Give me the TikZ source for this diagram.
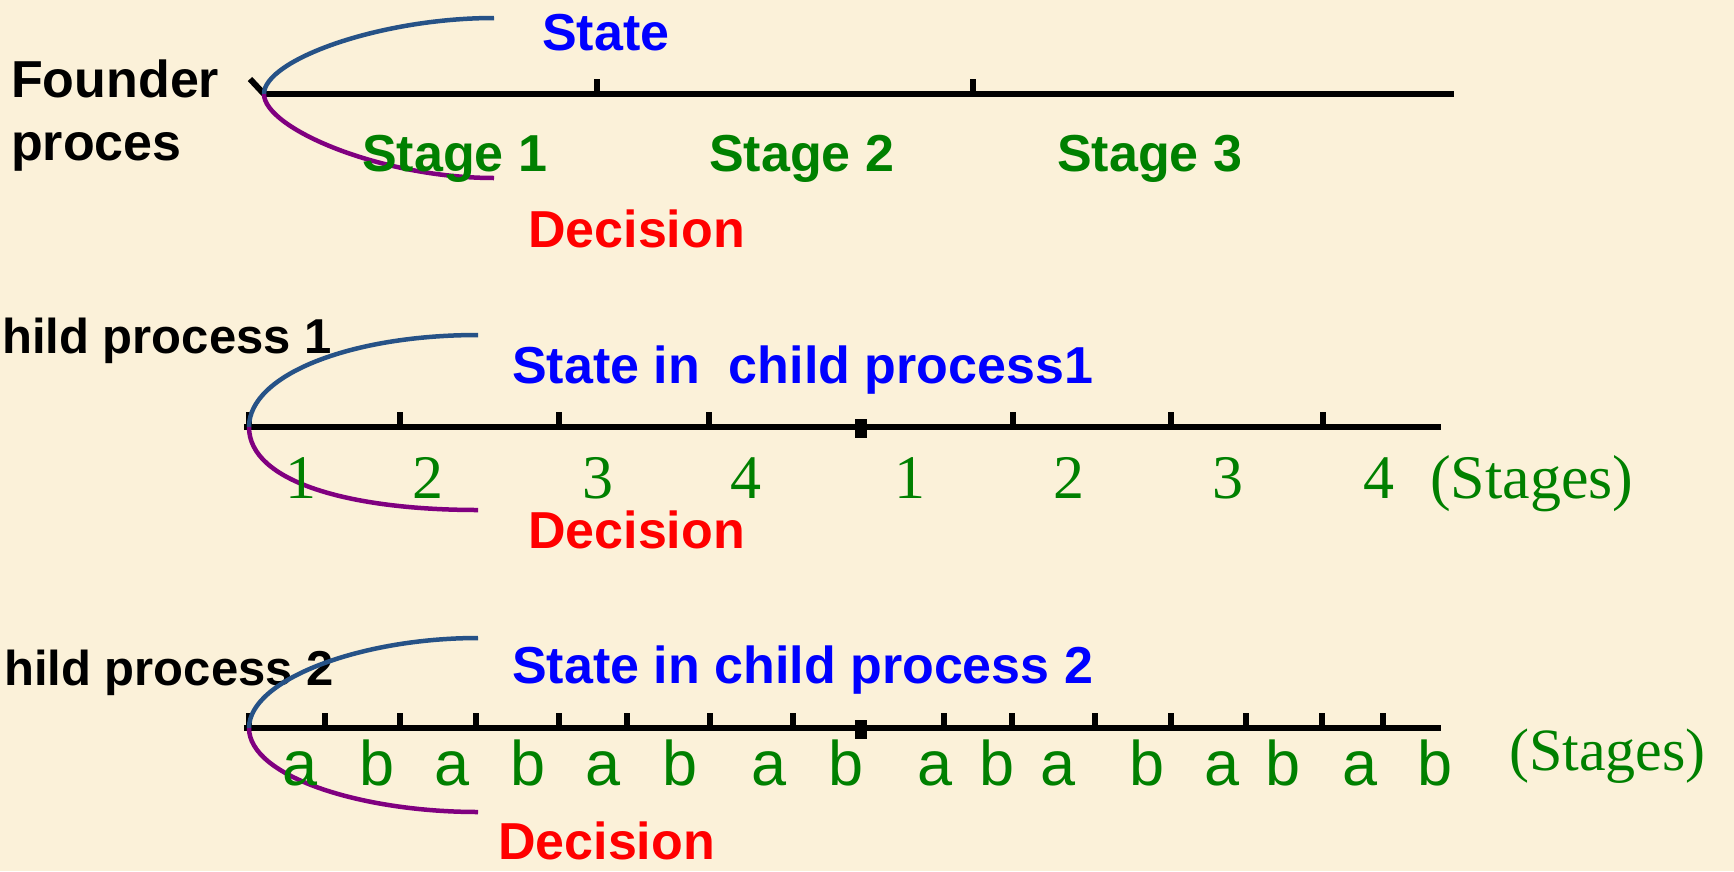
\documentclass[tikz,border=0pt]{standalone}
\usepackage{fontspec}
\setmainfont{Liberation Sans}
\newfontfamily\timesf{Liberation Serif}
\definecolor{bg}{RGB}{251,241,217}
\definecolor{stblue}{RGB}{38,82,135}
\definecolor{dpurple}{RGB}{128,0,128}
\definecolor{dgreen}{RGB}{0,128,0}
\definecolor{pblue}{RGB}{0,0,255}
\definecolor{pred}{RGB}{255,0,0}
\begin{document}
\begin{tikzpicture}[x=1pt,y=-1pt,
  lbl/.style={inner sep=0pt,font=\fontsize{52}{60}\selectfont\bfseries},
  blk/.style={lbl,text=black},
  stt/.style={lbl,text=pblue},
  dec/.style={lbl,text=pred},
  stg/.style={lbl,text=dgreen},
  num/.style={inner sep=0pt,text=dgreen,font=\timesf\fontsize{62}{70}\selectfont},
  ab/.style={inner sep=0pt,text=dgreen,font=\fontsize{63}{70}\selectfont},
  axisline/.style={line width=6pt},
  tk/.style={line width=6pt},
  stcurve/.style={line width=4.5pt,stblue},
  dccurve/.style={line width=4.5pt,dpurple}]
\fill[bg] (0,0) rectangle (1734,871);
\useasboundingbox (0,0) rectangle (1734,871);
\clip (0,0) rectangle (1734,871);

% ---------- Founder process ----------
\node[blk,anchor=base west] (f1) at (11,97) {Founder};
\node[blk,anchor=base west] (f2) at (11,160) {proces};
\coordinate (a0) at (264,94);
\coordinate (a1) at (1454,94);
\draw[axisline] (a0) -- (a1);
\coordinate (m0) at (250,79);
\draw[tk] (m0) -- (a0);
\foreach \x [count=\i] in {597,973} {
  \coordinate (t1\i) at (\x,94);
  \coordinate (u1\i) at (\x,79);
  \draw[tk] (t1\i) -- (u1\i);
}
\coordinate (s1) at (494,18);
\coordinate (d1) at (494,178);
\draw[stcurve] (a0) .. controls (264,60) and (380,18) .. (s1);
\draw[dccurve] (a0) .. controls (264,128) and (380,178) .. (d1);
\node[stt,anchor=base west] (st1) at (542,50) {State};
\node[stg,anchor=base west] (g1) at (362,171) {Stage 1};
\node[stg,anchor=base west] (g2) at (709,171) {Stage 2};
\node[stg,anchor=base west] (g3) at (1057,171) {Stage 3};
\node[dec,anchor=base west] (de1) at (528,247) {Decision};

% ---------- Child process 1 ----------
\node[blk,anchor=base west,font=\fontsize{49}{56}\selectfont\bfseries] (c1) at (2,353) {hild process 1};
\coordinate (b0) at (249,427);
\coordinate (b1) at (1441,427);
\draw[axisline] (244,427) -- (b1);
\foreach \x [count=\i] in {249,400,559,709,1013,1171,1323} {
  \coordinate (t2\i) at (\x,427);
  \coordinate (u2\i) at (\x,412);
  \draw[tk] (t2\i) -- (u2\i);
}
\node[fill=black,minimum width=12pt,minimum height=19pt,inner sep=0pt] (sq2) at (861,428.5) {};
\coordinate (s2) at (478,335);
\coordinate (d2) at (478,510);
\draw[stcurve] (b0) .. controls (249,375) and (350,335) .. (s2);
\draw[dccurve] (b0) .. controls (249,482) and (350,510) .. (d2);
\node[stt,anchor=base west] (st2) at (512,383) {State in\ \ child process1};
\foreach \x/\t [count=\i] in {301/1,428/2,598/3,746/4,910/1,1069/2,1228/3,1379/4} {
  \node[num,anchor=base] (n\i) at (\x,498) {\t};
}
\node[num,anchor=base west] (sg2) at (1430,498) {(Stages)};
\node[dec,anchor=base west] (de2) at (528,548) {Decision};

% ---------- Child process 2 ----------
\node[blk,anchor=base west,font=\fontsize{49}{56}\selectfont\bfseries] (c2) at (4,685) {hild process 2};
\coordinate (e0) at (249,728);
\coordinate (e1) at (1441,728);
\draw[axisline] (244,728) -- (e1);
\foreach \x [count=\i] in {249,325,400,476,559,627,710,793,944,1012,1095,1171,1246,1322,1383} {
  \coordinate (t3\i) at (\x,728);
  \coordinate (u3\i) at (\x,713);
  \draw[tk] (t3\i) -- (u3\i);
}
\node[fill=black,minimum width=12pt,minimum height=19pt,inner sep=0pt] (sq3) at (861,729.5) {};
\coordinate (s3) at (478,638);
\coordinate (d3) at (478,812);
\draw[stcurve] (e0) .. controls (249,680) and (360,638) .. (s3);
\draw[dccurve] (e0) .. controls (249,776) and (360,812) .. (d3);
\node[stt,anchor=base west] (st3) at (512,683) {State in child process 2};
\foreach \x/\t [count=\i] in {300/a,377/b,452/a,528/b,603/a,680/b,769/a,846/b,935/a,997/b,1058/a,1147/b,1222/a,1283/b,1360/a,1435/b} {
  \node[ab,anchor=base] (l\i) at (\x,785) {\t};
}
\node[num,anchor=base west,font=\timesf\fontsize{60}{66}\selectfont] (sg3) at (1509,770) {(Stages)};
\node[dec,anchor=base west] (de3) at (498,859) {Decision};
\end{tikzpicture}
\end{document}
